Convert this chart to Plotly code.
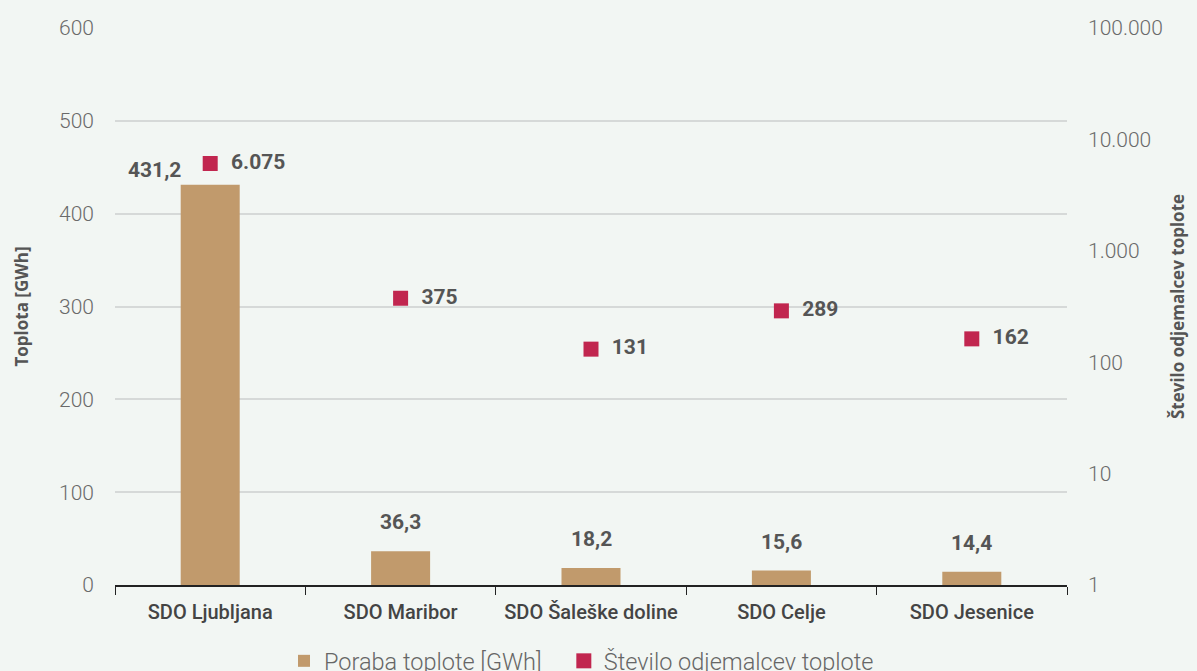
import plotly.graph_objects as go

categories = ["SDO Ljubljana", "SDO Maribor", "SDO Šaleške doline", "SDO Celje", "SDO Jesenice"]
heat_gwh = [431.2, 36.3, 18.2, 15.6, 14.4]
customers = [6075, 375, 131, 289, 162]
left_ticks = [0, 100, 200, 300, 400, 500, 600]
right_ticks = [1, 10, 100, 1000, 10000, 100000]
right_labels = ["1", "10", "100", "1.000", "10.000", "100.000"]

def fmt_dec(v):
    return f"{v:.1f}".replace(".", ",")

def fmt_int(v):
    return f"{v:,}".replace(",", ".")

BG = "#f2f6f3"
BAR = "#c19a6c"
MARK = "#c1264f"
FONT = "Roboto"
LBL = "#555555"

fig = go.Figure()
fig.add_trace(go.Bar(
    x=categories, y=heat_gwh, name="Poraba toplote [GWh]   ",
    marker=dict(color=BAR, line=dict(width=0)), width=0.31,
    hoverinfo="skip",
))
fig.add_trace(go.Scatter(
    x=categories, y=customers, name="Število odjemalcev toplote",
    mode="markers+text", yaxis="y2",
    marker=dict(symbol="square", size=15, color=MARK),
    text=["  " + fmt_int(c) for c in customers],
    textposition="middle right",
    textfont=dict(family=FONT, size=21, color=LBL, weight="bold"),
    hoverinfo="skip",
))

for i, (c, v) in enumerate(zip(categories, heat_gwh)):
    fig.add_annotation(
        x=c, y=v, text=fmt_dec(v), showarrow=False,
        yshift=29 if i > 0 else 15, xshift=0 if i > 0 else -56,
        font=dict(family=FONT, size=21, color=LBL, weight="bold"),
    )

fig.update_layout(
    width=1189, height=663,
    paper_bgcolor=BG, plot_bgcolor=BG,
    margin=dict(l=107, r=130, t=20, b=86, autoexpand=False),
    font=dict(family=FONT, color="#666666"),
    showlegend=True,
    legend=dict(orientation="h", x=0.49, xanchor="center",
                yref="container", y=0.015, yanchor="middle",
                font=dict(family=FONT, size=23.5, color="#666666", weight=300),
                tracegroupgap=0),
    xaxis=dict(
        showline=True, linecolor="#222222", linewidth=1.5,
        ticks="outside", tickson="boundaries", ticklen=8, tickcolor="#222222",
        tickangle=0,
        tickfont=dict(family=FONT, size=20, color="#444444", weight=500),
        ticklabelstandoff=8,
        showgrid=False,
    ),
    yaxis=dict(
        range=[0, 600], tickvals=left_ticks,
        showgrid=True, gridcolor="#d6d9d8", gridwidth=1.5,
        zeroline=False, showline=False,
        tickfont=dict(family=FONT, size=21, color="#6a6a6a", weight=300),
        ticklabelstandoff=20,
        title=dict(text="Toplota [GWh]", standoff=26,
                   font=dict(family="Open Sans", size=17, color=LBL, weight="bold")),
    ),
    yaxis2=dict(
        overlaying="y", side="right", type="log", range=[0, 5],
        tickvals=right_ticks, ticktext=right_labels,
        showgrid=False, zeroline=False, showline=False,
        tickfont=dict(family=FONT, size=21, color="#6a6a6a", weight=300),
        ticklabelstandoff=20,
        title=dict(text="Število odjemalcev toplote", standoff=10,
                   font=dict(family="Open Sans", size=17, color=LBL, weight="bold")),
    ),
)

fig.write_html("out.html", post_script="document.body.style.background='%s';" % BG)
